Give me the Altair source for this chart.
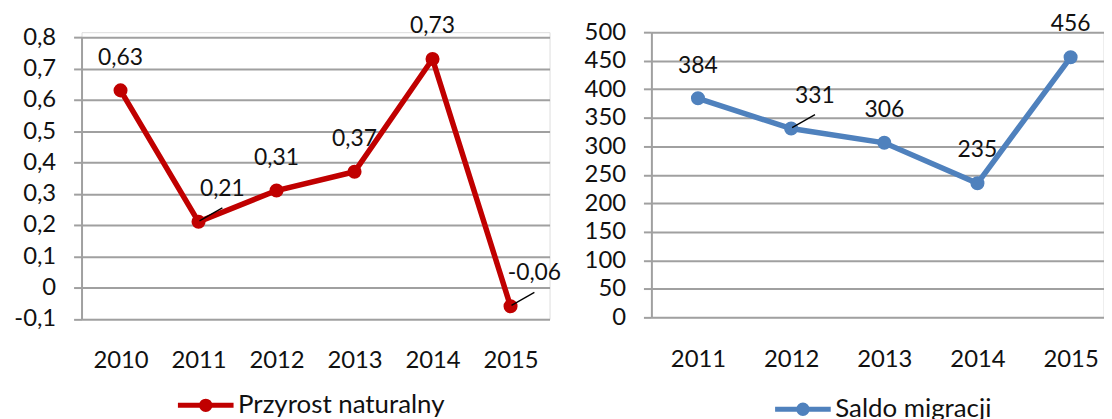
import altair as alt
import pandas as pd

# ---- data ----
years_a = [2010, 2011, 2012, 2013, 2014, 2015]
values_a = [0.63, 0.21, 0.31, 0.37, 0.73, -0.06]
series_a = "Przyrost naturalny"

years_b = [2011, 2012, 2013, 2014, 2015]
values_b = [384, 331, 306, 235, 456]
series_b = "Saldo migracji"

leader_a = [2011, 2015]
leader_b = [2012]

df_a = pd.DataFrame({"year": years_a, "value": values_a, "series": series_a,
                     "label": [f"{v:.2f}".replace(".", ",") for v in values_a]})
df_b = pd.DataFrame({"year": years_b, "value": values_b, "series": series_b,
                     "label": [str(v) for v in values_b]})

RED = "#C00000"
BLUE = "#4F81BD"
GRID = "#A0A0A0"
FONT = "Lato"

SYMBOL = "M-2,0L2,0M0.3,0A0.3,0.3,0,1,1,-0.3,0A0.3,0.3,0,1,1,0.3,0Z"


def panel(df, color, xdomain, ydomain, ytick, ylabel_expr, leaders, w, h, yrange, lx, ly):
    x = alt.X("year:Q", scale=alt.Scale(domain=xdomain, nice=False, zero=False),
              axis=alt.Axis(values=list(df["year"]), format="d", title=None, grid=False,
                            domain=False, ticks=False, labelFontSize=24, labelFont=FONT,
                            labelColor="#111", labelPadding=30))
    y = alt.Y("value:Q", scale=alt.Scale(domain=ydomain, nice=False, zero=False, range=yrange),
              axis=alt.Axis(values=ytick, title=None, grid=True, gridColor=GRID, gridWidth=2,
                            domain=True, domainColor=GRID, domainWidth=2,
                            ticks=True, tickSize=8, tickColor=GRID, tickWidth=2,
                            labelFontSize=24, labelFont=FONT, labelColor="#111",
                            labelPadding=18, labelExpr=ylabel_expr))
    color_enc = alt.Color("series:N", scale=alt.Scale(range=[color]),
                          legend=alt.Legend(title=None, orient="none", legendX=lx, legendY=ly,
                                            symbolType=SYMBOL, padding=0,
                                            symbolSize=784, symbolStrokeWidth=5,
                                            symbolFillColor=color, symbolStrokeColor=color,
                                            labelFontSize=26, labelFont=FONT, labelColor="#111",
                                            labelOffset=16, labelLimit=0))
    base = alt.Chart(df).encode(x=x, y=y)
    line = base.mark_line(strokeWidth=5.5).encode(color=color_enc)
    pts = base.mark_circle(size=200, opacity=1).encode(color=color_enc)
    normal = base.transform_filter(
        alt.FieldOneOfPredicate(field="year", oneOf=[yy for yy in df["year"] if yy not in leaders])
    ).mark_text(dy=-33, fontSize=23, font=FONT, color="#111").encode(text="label:N")
    lead_txt = base.transform_filter(
        alt.FieldOneOfPredicate(field="year", oneOf=leaders)
    ).mark_text(dy=-33, dx=24, fontSize=23, font=FONT, color="#111").encode(text="label:N")
    lead_line = base.transform_filter(
        alt.FieldOneOfPredicate(field="year", oneOf=leaders)
    ).mark_rule(color="#000", strokeWidth=1.3, x2Offset=24, y2Offset=-14, xOffset=1, yOffset=-1).encode(
        x2="year:Q", y2="value:Q")
    return alt.layer(line, pts, lead_line, normal, lead_txt).properties(width=w, height=h)


expr_a = "datum.value == 0 ? '0' : replace(replace(format(datum.value, '.1f'), '.', ','), '\u2212', '-')"
expr_b = "format(datum.value, 'd')"

left = panel(df_a, RED, [2009.5, 2015.5], [-0.1, 0.8],
             [-0.1, 0, 0.1, 0.2, 0.3, 0.4, 0.5, 0.6, 0.7, 0.8], expr_a, leader_a, 471, 288.5,
             [288.5, 5], 108.5, 359)
right = panel(df_b, BLUE, [2010.5, 2015.353], [0, 500],
              list(range(0, 501, 50)), expr_b, leader_b, 455, 287, [287, 0], 136, 363)

chart = alt.hconcat(left, right, spacing=102.5, bounds="flush").resolve_scale(
    color="independent").configure_view(stroke=None).configure(background="white").properties(
    padding={"left": 5, "top": 3, "right": 0, "bottom": 0})

chart.save("out.html", embed_options={"renderer": "svg", "actions": False})
